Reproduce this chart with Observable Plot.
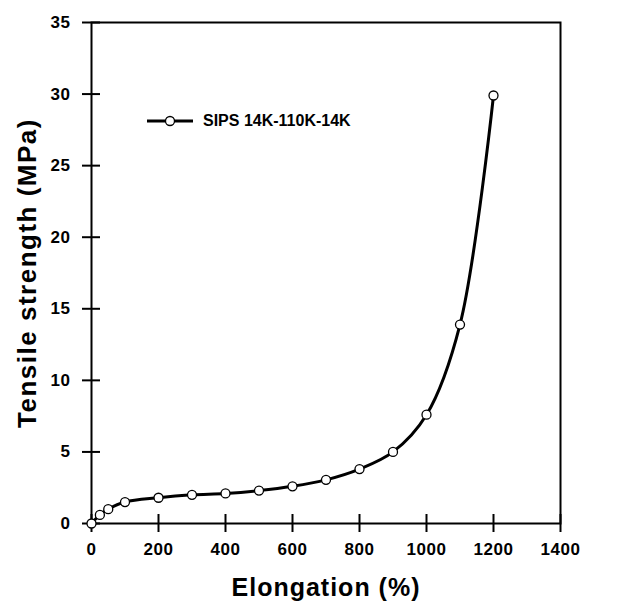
<!DOCTYPE html>
<html><head>
<meta charset="utf-8">
<script src="https://cdn.jsdelivr.net/npm/d3@7"></script>
<script src="https://cdn.jsdelivr.net/npm/@observablehq/plot@0.6"></script>
<style>
body{margin:0;background:#fff}
#wrap{position:relative;width:625px;height:610px;font-family:"Liberation Sans",Arial,sans-serif}
#legend{position:absolute;left:145px;top:112px;display:flex;align-items:center;font-weight:bold;font-size:16px;color:#000}
</style>
</head><body>
<div id="wrap"><div id="legend"></div></div>
<script>
const elongation = [0, 25, 50, 100, 200, 300, 400, 500, 600, 700, 800, 900, 1000, 1100, 1200];
const strength   = [0, 0.6, 1.0, 1.5, 1.8, 2.0, 2.1, 2.3, 2.6, 3.05, 3.8, 5.0, 7.6, 13.9, 29.9];
const xTicks = [0, 200, 400, 600, 800, 1000, 1200, 1400];
const yTicks = [0, 5, 10, 15, 20, 25, 30, 35];
const seriesName = "SIPS 14K-110K-14K";
const xLabel = "Elongation (%)";
const yLabel = "Tensile strength (MPa)";

const data = elongation.map((x, i) => ({x, y: strength[i]}));

const W = 625, H = 610, mL = 91, mR = 65, mT = 22, mB = 87;
const frameW = W - mL - mR, frameH = H - mT - mB, tick = 9;

const chart = Plot.plot({
  width: W, height: H,
  marginLeft: mL, marginRight: mR, marginTop: mT, marginBottom: mB,
  style: {fontFamily: "'Liberation Sans', Arial, sans-serif", fontWeight: "bold", fontSize: "17px", color: "#000", background: "#fff", overflow: "visible"},
  x: {domain: [0, 1400]},
  y: {domain: [0, 35]},
  marks: [
    Plot.frame({stroke: "#000", strokeWidth: 2}),
    Plot.tickX(xTicks, {x: d => d, stroke: "#000", strokeWidth: 2, insetTop: frameH - tick, insetBottom: -tick}),
    Plot.tickY(yTicks, {y: d => d, stroke: "#000", strokeWidth: 2, insetLeft: -tick, insetRight: frameW - tick}),
    Plot.axisX({ticks: xTicks, tickSize: 0, tickPadding: 19, tickFormat: d => String(d), fontSize: 17, fontWeight: "bold", label: null}),
    Plot.axisY({ticks: yTicks, tickSize: 0, tickPadding: 21, tickFormat: d => String(d), fontSize: 17, fontWeight: "bold", label: null}),
    Plot.text([xLabel], {frameAnchor: "bottom", textAnchor: "middle", dy: 72, fontSize: 25, fontWeight: "bold", text: d => d, fill: "#000"}),
    Plot.text([yLabel], {frameAnchor: "left", textAnchor: "middle", dx: -64, rotate: -90, fontSize: 26, fontWeight: "bold", text: d => d, fill: "#000"}),
    Plot.line(data, {x: "x", y: "y", curve: "catmull-rom", stroke: "#000", strokeWidth: 3}),
    Plot.dot(data, {x: "x", y: "y", r: 4.5, fill: "#fff", stroke: "#000", strokeWidth: 1.3})
  ]
});
document.getElementById("wrap").prepend(chart);

// slight letter spacing to mimic the wide scanned lettering
chart.querySelectorAll("text").forEach(t => {
  const s = t.textContent;
  if (s === xLabel) t.style.letterSpacing = "1px";
  else if (s === yLabel) t.style.letterSpacing = "1.5px";
  else t.style.letterSpacing = "0.6px";
});

const legend = document.getElementById("legend");
legend.innerHTML = `<svg width="50" height="16" style="overflow:visible"><line x1="2" x2="48" y1="8" y2="8" stroke="#000" stroke-width="3"/><circle cx="25" cy="8" r="4.5" fill="#fff" stroke="#000" stroke-width="1.3"/></svg><span style="margin-left:8px">${seriesName}</span>`;
</script>
</body></html>
